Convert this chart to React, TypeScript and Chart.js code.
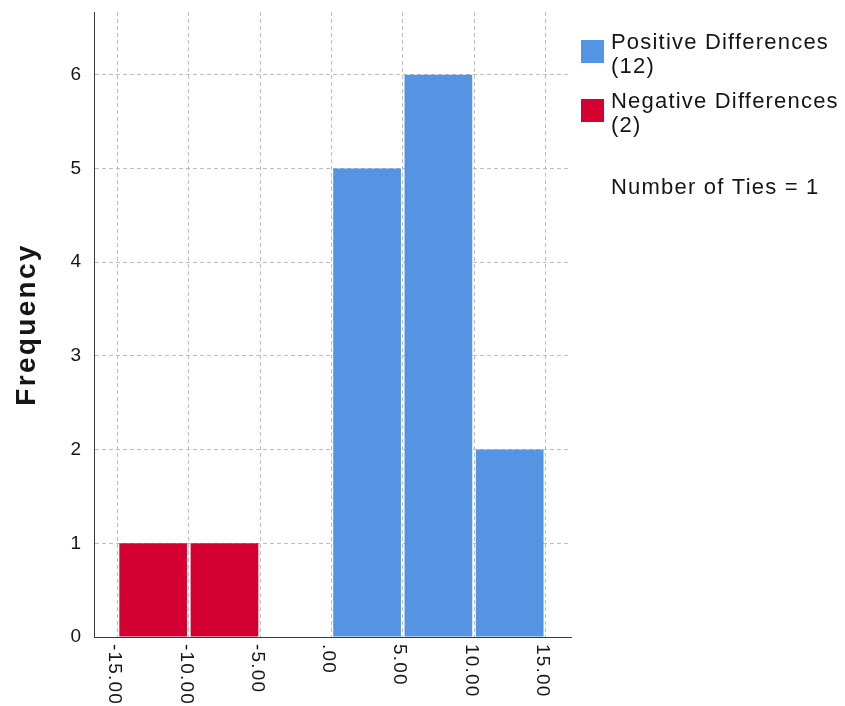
import React, { useEffect, useRef } from "react";
import { Chart, registerables } from "chart.js";

Chart.register(...registerables);

// Histogram of signed differences (bin width 5), split by sign
const positiveBinCenters = [2.5, 7.5, 12.5];
const positiveCounts = [5, 6, 2];
const negativeBinCenters = [-12.5, -7.5];
const negativeCounts = [1, 1];

const xTickValues = [-15, -10, -5, 0, 5, 10, 15];
const xTickLabels = ["-15.00", "-10.00", "-5.00", ".00", "5.00", "10.00", "15.00"];
const yTickValues = [0, 1, 2, 3, 4, 5, 6];
const yTickLabels = ["0", "1", "2", "3", "4", "5", "6"];

const legendLines = [
  ["Positive Differences", "(12)"],
  ["Negative Differences", "(2)"],
];
const tiesNote = "Number of Ties = 1";
const yAxisTitle = "Frequency";

const BLUE = "#5593e3";
const RED = "#d40032";
const GRID = "#bdbdbd";
const AXIS = "#3a3a3a";
const TEXT = "#151515";
const FONT = "'Liberation Sans', Arial, sans-serif";

const W = 845;
const H = 706;

const textPlugin = {
  id: "histogramText",
  afterDraw(chart: any) {
    const ctx = chart.ctx as CanvasRenderingContext2D & { letterSpacing?: string };
    const xs = chart.scales.x;
    const ys = chart.scales.y;
    const area = chart.chartArea;
    ctx.save();
    ctx.fillStyle = TEXT;

    // y tick labels
    ctx.font = `19px ${FONT}`;
    ctx.letterSpacing = "0px";
    ctx.textAlign = "right";
    ctx.textBaseline = "middle";
    yTickValues.forEach((v, i) => {
      ctx.fillText(yTickLabels[i], area.left - 13, ys.getPixelForValue(v));
    });

    // x tick labels, turned to read downward
    ctx.letterSpacing = "1.2px";
    ctx.textAlign = "left";
    ctx.textBaseline = "middle";
    xTickValues.forEach((v, i) => {
      ctx.save();
      ctx.translate(xs.getPixelForValue(v) - 3, area.bottom + 7);
      ctx.rotate(Math.PI / 2);
      ctx.fillText(xTickLabels[i], 0, 0);
      ctx.restore();
    });

    // y axis title
    ctx.font = `bold 28px ${FONT}`;
    ctx.letterSpacing = "2.3px";
    ctx.textAlign = "center";
    ctx.textBaseline = "alphabetic";
    ctx.save();
    ctx.translate(35, (area.top + area.bottom) / 2);
    ctx.rotate(-Math.PI / 2);
    ctx.fillText(yAxisTitle, 0, 0);
    ctx.restore();

    // legend
    const lx = area.right + 10;
    const colors = [BLUE, RED];
    const rowTops = [40, 99];
    ctx.font = `22px ${FONT}`;
    ctx.letterSpacing = "1.2px";
    ctx.textAlign = "left";
    ctx.textBaseline = "alphabetic";
    legendLines.forEach((lines, i) => {
      ctx.fillStyle = colors[i];
      ctx.fillRect(lx, rowTops[i], 23, 23);
      ctx.fillStyle = TEXT;
      lines.forEach((line, j) => {
        ctx.fillText(line, lx + 30, rowTops[i] + 9 + j * 24);
      });
    });
    ctx.fillText(tiesNote, lx + 30, 194);

    ctx.restore();
  },
};

export default function App() {
  const canvasRef = useRef<HTMLCanvasElement | null>(null);

  useEffect(() => {
    const canvas = canvasRef.current;
    if (!canvas) return;

    const chart = new Chart(canvas, {
      type: "bar",
      data: {
        datasets: [
          {
            label: legendLines[0].join(" "),
            data: positiveBinCenters.map((x, i) => ({ x, y: positiveCounts[i] })),
            backgroundColor: BLUE,
            borderWidth: 0,
          },
          {
            label: legendLines[1].join(" "),
            data: negativeBinCenters.map((x, i) => ({ x, y: negativeCounts[i] })),
            backgroundColor: RED,
            borderWidth: 0,
          },
        ],
      },
      options: {
        responsive: false,
        animation: false,
        grouped: false,
        categoryPercentage: 1,
        barPercentage: 0.95,
        layout: { padding: { top: 12, right: 274, bottom: 0, left: 0 } },
        plugins: {
          legend: { display: false },
          tooltip: { enabled: false },
        },
        scales: {
          x: {
            type: "linear",
            offset: false,
            min: -16.65,
            max: 16.8,
            afterBuildTicks: (s: any) => {
              s.ticks = xTickValues.map((value) => ({ value }));
            },
            afterFit: (s: any) => {
              s.height = 69;
              s.paddingLeft = 0;
              s.paddingRight = 0;
            },
            ticks: { display: false },
            grid: { offset: false, color: GRID, lineWidth: 1, drawTicks: false },
            border: { display: true, color: AXIS, width: 1, dash: [4, 3] },
          },
          y: {
            type: "linear",
            min: 0,
            max: 6.67,
            afterBuildTicks: (s: any) => {
              s.ticks = yTickValues.map((value) => ({ value }));
            },
            afterFit: (s: any) => {
              s.width = 94;
              s.paddingTop = 0;
              s.paddingBottom = 0;
            },
            ticks: { display: false },
            grid: { color: GRID, lineWidth: 1, drawTicks: false },
            border: { display: true, color: AXIS, width: 1, dash: [4, 3] },
          },
        },
      } as any,
      plugins: [textPlugin],
    });

    return () => chart.destroy();
  }, []);

  return (
    <div style={{ position: "fixed", left: 0, top: 0, width: W, height: H }}>
      <canvas ref={canvasRef} width={W} height={H} style={{ display: "block" }} />
    </div>
  );
}
